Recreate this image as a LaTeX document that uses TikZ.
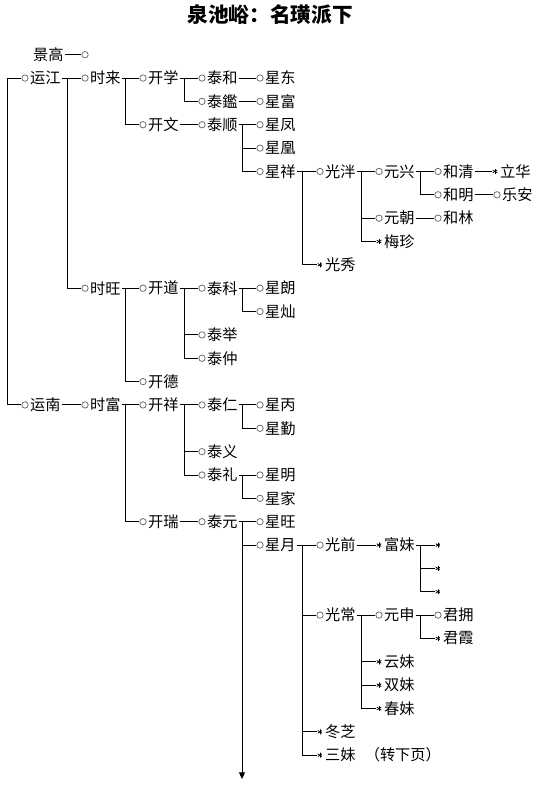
\documentclass[tikz,border=0pt]{standalone}
\usepackage{fontspec}
\newfontfamily\cjk{Noto Sans CJK SC}
\usetikzlibrary{arrows.meta}
\tikzset{
  txt/.style={anchor=west,inner xsep=0.6pt,inner ysep=1pt,font=\cjk\fontsize{11.4pt}{12pt}\selectfont},
  mko/.style={circle,draw=black!60,line width=0.55pt,inner sep=0pt,minimum size=4.8pt},
  mks/.style={circle,inner sep=0pt,minimum size=4.2pt,path picture={
     \foreach \a in {90,30,-30}{\draw[line width=0.6pt,black]
       ([shift={(\a:2.1pt)}]path picture bounding box.center) --
       ([shift={(\a+180:2.1pt)}]path picture bounding box.center);}}},
  conn/.style={line width=0.7pt,black},
}
\newcommand\pn[5]{%
  \node[mk#5] (m#1) at ({#2+18},{54.7+23.35*#3}) {};
  \node[txt] (#1) at ({#2+22},{54.7+23.35*#3}) {#4};}
\newcommand\mkonly[4]{%
  \node[mk#4] (m#1) at ({#2+18},{54.7+23.35*#3}) {};}
\begin{document}
\begin{tikzpicture}[x=0.75pt,y=-0.75pt]
\useasboundingbox (0,0) rectangle (538,793);
\coordinate (c0) at (7,0);
\coordinate (c1) at (67,0);
\coordinate (c2) at (125,0);
\coordinate (c3) at (184,0);
\coordinate (c4) at (242,0);
\coordinate (c5) at (302,0);
\coordinate (c6) at (361,0);
\coordinate (c7) at (420,0);
\coordinate (arrowend) at (242,779);

\node[font=\cjk\bfseries\fontsize{15.5pt}{16pt}\selectfont] (title) at (270,15) {泉池峪：名璜派下};

% ancestor
\node[txt] (jg) at (32,54.7) {景高};
\node[mko] (m0) at (85,54.7) {};

% nodes: name, column x, row, text, marker
\pn{yj}{7}{1}{运江}{o}
\pn{sl}{67}{1}{时来}{o}
\pn{kx}{125}{1}{开学}{o}
\pn{th}{184}{1}{泰和}{o}
\pn{xd}{242}{1}{星东}{o}
\pn{tj}{184}{2}{泰鑑}{o}
\pn{xf}{242}{2}{星富}{o}
\pn{kw}{125}{3}{开文}{o}
\pn{ts}{184}{3}{泰顺}{o}
\pn{xfe}{242}{3}{星凤}{o}
\pn{xh}{242}{4}{星凰}{o}
\pn{xx}{242}{5}{星祥}{o}
\pn{gp}{302}{5}{光泮}{o}
\pn{yx}{361}{5}{元兴}{o}
\pn{hq}{420}{5}{和清}{o}
\pn{lh}{477}{5}{立华}{s}
\pn{hm}{420}{6}{和明}{o}
\pn{la}{479}{6}{乐安}{o}
\pn{yc}{361}{7}{元朝}{o}
\pn{hl}{420}{7}{和林}{o}
\pn{mz}{361}{8}{梅珍}{s}
\pn{gx}{302}{9}{光秀}{s}
\pn{sw}{67}{10}{时旺}{o}
\pn{kd}{125}{10}{开道}{o}
\pn{tk}{184}{10}{泰科}{o}
\pn{xl}{242}{10}{星朗}{o}
\pn{xc}{242}{11}{星灿}{o}
\pn{tju}{184}{12}{泰举}{o}
\pn{tz}{184}{13}{泰仲}{o}
\pn{kde}{125}{14}{开德}{o}
\pn{yn}{7}{15}{运南}{o}
\pn{sf}{67}{15}{时富}{o}
\pn{kxi}{125}{15}{开祥}{o}
\pn{tr}{184}{15}{泰仁}{o}
\pn{xb}{242}{15}{星丙}{o}
\pn{xq}{242}{16}{星勤}{o}
\pn{ty}{184}{17}{泰义}{o}
\pn{tl}{184}{18}{泰礼}{o}
\pn{xm}{242}{18}{星明}{o}
\pn{xj}{242}{19}{星家}{o}
\pn{kr}{125}{20}{开瑞}{o}
\pn{tyu}{184}{20}{泰元}{o}
\pn{xw}{242}{20}{星旺}{o}
\pn{xy}{242}{21}{星月}{o}
\pn{gq}{302}{21}{光前}{o}
\pn{fm}{361}{21}{富妹}{s}
\mkonly{sa}{420}{21}{s}
\mkonly{sb}{420}{22}{s}
\mkonly{sc}{420}{23}{s}
\pn{gc}{302}{24}{光常}{o}
\pn{ys}{361}{24}{元申}{o}
\pn{jy}{420}{24}{君拥}{o}
\pn{jx}{420}{25}{君霞}{s}
\pn{yum}{361}{26}{云妹}{s}
\pn{sm}{361}{27}{双妹}{s}
\pn{cm}{361}{28}{春妹}{s}
\pn{dz}{302}{29}{冬芝}{s}
\pn{sme}{302}{30}{三妹\hspace{7pt}（转下页）}{s}

\begin{scope}[conn]
\draw (jg.east) -- (m0.west);
% root bracket
\draw (myj.west) -| (myn.west -| c0) -- (myn.west);
% 运江
\draw (yj.east) -- (msl.west);
\draw (yj.east -| c1) |- (msw.west);
% 时来
\draw (sl.east) -- (mkx.west);
\draw (sl.east -| c2) |- (mkw.west);
% 开学
\draw (kx.east) -- (mth.west);
\draw (kx.east -| c3) |- (mtj.west);
\draw (th.east) -- (mxd.west);
\draw (tj.east) -- (mxf.west);
% 开文
\draw (kw.east) -- (mts.west);
\draw (ts.east) -- (mxfe.west);
\draw (ts.east -| c4) |- (mxx.west);
\draw (mxh.west -| c4) -- (mxh.west);
% 星祥
\draw (xx.east) -- (mgp.west);
\draw (xx.east -| c5) |- (mgx.west);
\draw (gp.east) -- (myx.west);
\draw (gp.east -| c6) |- (mmz.west);
\draw (myc.west -| c6) -- (myc.west);
\draw (yx.east) -- (mhq.west);
\draw (yx.east -| c7) |- (mhm.west);
\draw (hq.east) -- (mlh.west);
\draw (hm.east) -- (mla.west);
\draw (yc.east) -- (mhl.west);
% 时旺
\draw (sw.east) -- (mkd.west);
\draw (sw.east -| c2) |- (mkde.west);
\draw (kd.east) -- (mtk.west);
\draw (kd.east -| c3) |- (mtz.west);
\draw (mtju.west -| c3) -- (mtju.west);
\draw (tk.east) -- (mxl.west);
\draw (tk.east -| c4) |- (mxc.west);
% 运南
\draw (yn.east) -- (msf.west);
\draw (sf.east) -- (mkxi.west);
\draw (sf.east -| c2) |- (mkr.west);
\draw (kxi.east) -- (mtr.west);
\draw (kxi.east -| c3) |- (mtl.west);
\draw (mty.west -| c3) -- (mty.west);
\draw (tr.east) -- (mxb.west);
\draw (tr.east -| c4) |- (mxq.west);
\draw (tl.east) -- (mxm.west);
\draw (tl.east -| c4) |- (mxj.west);
% 开瑞
\draw (kr.east) -- (mtyu.west);
\draw (tyu.east) -- (mxw.west);
\draw[-{Triangle[width=4.5pt,length=5pt]}] (tyu.east -| c4) -- (arrowend);
\draw (mxy.west -| c4) -- (mxy.west);
% 星月
\draw (xy.east) -- (mgq.west);
\draw (xy.east -| c5) |- (msme.west);
\draw (mgc.west -| c5) -- (mgc.west);
\draw (mdz.west -| c5) -- (mdz.west);
\draw (gq.east) -- (mfm.west);
\draw (fm.east) -- (msa.west);
\draw (fm.east -| c7) |- (msc.west);
\draw (msb.west -| c7) -- (msb.west);
% 光常
\draw (gc.east) -- (mys.west);
\draw (gc.east -| c6) |- (mcm.west);
\draw (myum.west -| c6) -- (myum.west);
\draw (msm.west -| c6) -- (msm.west);
\draw (ys.east) -- (mjy.west);
\draw (ys.east -| c7) |- (mjx.west);
\end{scope}
\end{tikzpicture}
\end{document}
